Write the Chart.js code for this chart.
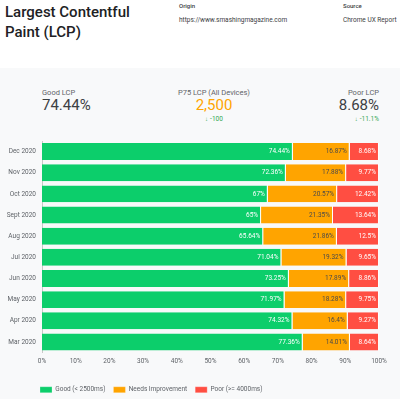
<!DOCTYPE html>
<html>
<head>
<meta charset="utf-8">
<script src="https://cdn.jsdelivr.net/npm/chart.js@4"></script>
<style>
    html, body { margin: 0; padding: 0; width: 400px; height: 399px; overflow: hidden; background: #f8f9fa; font-family: Roboto, "Noto Sans", sans-serif; }
    .header { position: absolute; left: 0; top: 0; width: 400px; height: 68px; background: #fff; }
    .title { position: absolute; left: 5px; top: 2px; font-size: 15px; line-height: 20px; font-weight: 500; color: #202124; }
    .meta-label { position: absolute; top: 2px; font-size: 6px; font-weight: 500; color: #3c4043; }
    .meta-value { position: absolute; top: 16px; font-size: 6.5px; color: #3c4043; }
    .stat-label { position: absolute; top: 88px; font-size: 7.5px; color: #5f6368; }
    .stat-value { position: absolute; top: 96px; font-size: 15px; color: #3c4043; }
    .stat-delta { position: absolute; top: 115px; font-size: 6.5px; color: #34a853; }
    .arrow { font-size: 6px; margin-right: 2px; }
    #wrap { position: absolute; left: 0; top: 135px; width: 400px; height: 268px; }
</style>
</head>
<body>
<div class="header">
    <div class="title">Largest Contentful<br>Paint (LCP)</div>
    <div class="meta-label" style="left:179px">Origin</div>
    <div class="meta-value" style="left:179px">https://www.smashingmagazine.com</div>
    <div class="meta-label" style="left:343px">Source</div>
    <div class="meta-value" style="left:343px">Chrome UX Report</div>
</div>

<div class="stat-label" style="left:42px">Good LCP</div>
<div class="stat-value" style="left:42px">74.44%</div>

<div class="stat-label" style="left:114px;width:200px;text-align:center">P75 LCP (All Devices)</div>
<div class="stat-value" style="left:114px;width:200px;text-align:center;color:#ffa400">2,500</div>
<div class="stat-delta" style="left:114px;width:200px;text-align:center"><span class="arrow">&#8595;</span>-100</div>

<div class="stat-label" style="right:21px;text-align:right">Poor LCP</div>
<div class="stat-value" style="right:21px;text-align:right">8.68%</div>
<div class="stat-delta" style="right:21px;text-align:right"><span class="arrow">&#8595;</span>-11.1%</div>

<div id="wrap"><canvas id="lcpChart"></canvas></div>

<script>
const months = ['Dec 2020', 'Nov 2020', 'Oct 2020', 'Sept 2020', 'Aug 2020', 'Jul 2020', 'Jun 2020', 'May 2020', 'Apr 2020', 'Mar 2020'];
const good = [74.44, 72.36, 67, 65, 65.64, 71.04, 73.25, 71.97, 74.32, 77.36];
const needsImprovement = [16.87, 17.88, 20.57, 21.35, 21.86, 19.32, 17.89, 18.28, 16.4, 14.01];
const poor = [8.68, 9.77, 12.42, 13.64, 12.5, 9.65, 8.86, 9.75, 9.27, 8.64];
const seriesNames = ['Good (< 2500ms)', 'Needs Improvement', 'Poor (>= 4000ms)'];

const GREEN = '#0cce6b';
const ORANGE = '#ffa400';
const RED = '#ff4e42';
const labelColors = ['#ffffff', '#4a4a4a', '#ffffff'];
const smallFont = { size: 6.5, family: 'Roboto' };

// draws the value at the right end of each segment
const barLabels = {
    id: 'barLabels',
    afterDatasetsDraw(chart) {
        const ctx = chart.ctx;
        ctx.save();
        ctx.font = '6.5px Roboto, sans-serif';
        ctx.textAlign = 'right';
        ctx.textBaseline = 'middle';
        chart.data.datasets.forEach((ds, di) => {
            const meta = chart.getDatasetMeta(di);
            ctx.fillStyle = labelColors[di];
            meta.data.forEach((bar, i) => {
                ctx.fillText(ds.data[i] + '%', bar.x - 3, bar.y);
            });
        });
        ctx.restore();
    }
};

// push the legend so it starts at the y axis line, like the original
const shiftLegend = {
    id: 'shiftLegend',
    afterLayout(chart) {
        const lg = chart.legend;
        if (lg) {
            lg.left += 32;
            lg.right += 32;
        }
    }
};

const makeDataset = (label, data, color) => ({
    label: label,
    data: data,
    backgroundColor: color,
    borderColor: '#ffffff',
    borderWidth: { top: 0, right: 1, bottom: 0, left: 0 },
    borderSkipped: false,
    barPercentage: 0.8,
    categoryPercentage: 1.0
});

new Chart(document.getElementById('lcpChart'), {
    type: 'bar',
    data: {
        labels: months,
        datasets: [
            makeDataset(seriesNames[0], good, GREEN),
            makeDataset(seriesNames[1], needsImprovement, ORANGE),
            makeDataset(seriesNames[2], poor, RED)
        ]
    },
    options: {
        indexAxis: 'y',
        responsive: true,
        maintainAspectRatio: false,
        animation: false,
        layout: { padding: { top: 6, right: 21, left: 0, bottom: 0 } },
        plugins: {
            legend: {
                position: 'bottom',
                align: 'start',
                labels: {
                    boxWidth: 12,
                    boxHeight: 6,
                    padding: 8,
                    color: '#5f6368',
                    font: smallFont
                }
            },
            tooltip: { enabled: false }
        },
        scales: {
            x: {
                stacked: true,
                min: 0,
                max: 100,
                grid: { display: false, drawTicks: false },
                border: { display: false },
                ticks: {
                    stepSize: 10,
                    padding: 5,
                    color: '#5f6368',
                    font: smallFont,
                    callback: v => v + '%'
                },
                afterFit: scale => { scale.height = 26; }
            },
            y: {
                stacked: true,
                grid: { display: false, drawTicks: false },
                border: { display: true, color: '#c8c8c8' },
                ticks: {
                    padding: 6,
                    color: '#5f6368',
                    font: smallFont
                },
                afterFit: scale => {
                    scale.width = 42;
                    scale.paddingTop = 0;
                    scale.paddingBottom = 0;
                }
            }
        }
    },
    plugins: [barLabels, shiftLegend]
});
</script>
</body>
</html>
